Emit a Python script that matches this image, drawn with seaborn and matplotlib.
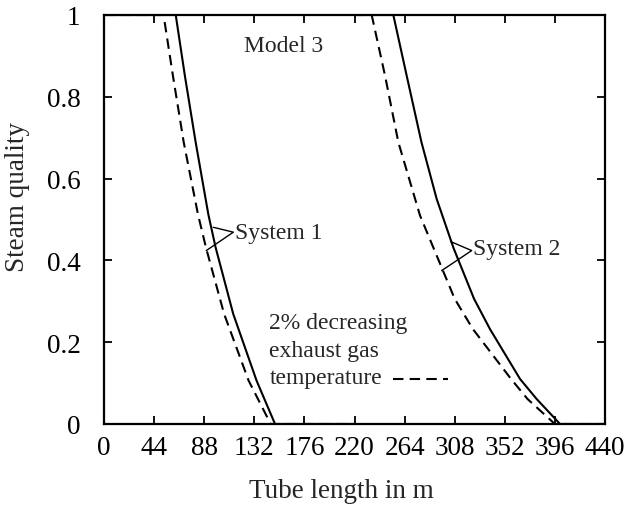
import matplotlib
matplotlib.use("Agg")
import matplotlib.pyplot as plt
import seaborn as sns
import pandas as pd

# ---- data ----
s1_solid_x = [0, 63.0, 71.0, 80.5, 91.6, 98.0, 113.5, 134.0, 150.2, 220]
s1_solid_y = [1, 1.0, 0.852, 0.689, 0.513, 0.432, 0.269, 0.106, 0.0, 0]
s1_dash_x = [0, 52.3, 60.5, 70.0, 82.5, 89.5, 105.5, 127.0, 146.4, 220]
s1_dash_y = [1, 1.0, 0.852, 0.689, 0.513, 0.432, 0.269, 0.106, 0.0, 0]

s2_solid_x = [220, 254.1, 265.8, 278.8, 292.2, 307.0, 325.0, 339.0, 365.4, 380.0, 400.5, 440]
s2_solid_y = [1, 1.0, 0.852, 0.689, 0.55, 0.43, 0.306, 0.232, 0.11, 0.061, 0.0, 0]
s2_dash_x = [220, 235.1, 246.8, 258.5, 277.5, 308.0, 324.0, 357.5, 372.0, 396.0, 440]
s2_dash_y = [1, 1.0, 0.852, 0.689, 0.51, 0.306, 0.232, 0.11, 0.061, 0.0, 0]

x_ticks = [0, 44, 88, 132, 176, 220, 264, 308, 352, 396, 440]
y_ticks = [0, 0.2, 0.4, 0.6, 0.8, 1]
y_tick_labels = ["0", "0.2", "0.4", "0.6", "0.8", "1"]

sns.set_theme(style="ticks")
plt.rcParams["font.family"] = ["Liberation Serif", "DejaVu Serif"]

fig = plt.figure(figsize=(6.25, 5.06), dpi=100)
ax = fig.add_axes([104 / 625, 1 - 425 / 506, 501 / 625, 409 / 506])

lw = 1.5
for xs, ys, dashed in [(s1_solid_x, s1_solid_y, False), (s1_dash_x, s1_dash_y, True),
                       (s2_solid_x, s2_solid_y, False), (s2_dash_x, s2_dash_y, True)]:
    df = pd.DataFrame({"x": xs, "y": ys})
    kw = dict(dashes=(5, 3)) if dashed else {}
    sns.lineplot(data=df, x="x", y="y", ax=ax, color="black", lw=lw,
                 sort=False, estimator=None, **kw)

ax.set_xlim(0, 440)
ax.set_ylim(0, 1)
ax.set_xticks(x_ticks)
ax.set_xticklabels([str(t) for t in x_ticks])
ax.set_yticks(y_ticks)
ax.set_yticklabels(y_tick_labels)

fs_tick = 19.5
fs_ann = 17
ax.tick_params(direction="in", length=6, width=1.3, top=True, right=True,
               labelsize=fs_tick, colors="black")
ax.tick_params(axis="x", pad=8)
ax.tick_params(axis="y", pad=17)
for sp in ax.spines.values():
    sp.set_linewidth(1.6)
    sp.set_color("black")

ax.set_xlabel("Tube length in m", fontsize=fs_tick)
ax.set_ylabel("Steam quality", fontsize=fs_tick)
ax.xaxis.set_label_coords(0.473, -0.132)
ax.yaxis.set_label_coords(-0.148, 0.558)

# annotations
ax.text(157.5, 0.925, "Model 3", fontsize=fs_ann, ha="center", va="center")
ax.text(115, 0.469, "System 1", fontsize=fs_ann, ha="left", va="center")
ax.text(324.3, 0.428, "System 2", fontsize=fs_ann, ha="left", va="center")
ax.plot([96.0, 113.6, 89.8], [0.481, 0.469, 0.424], color="black", lw=1.0)
ax.plot([304.5, 322.9, 296.5], [0.446, 0.424, 0.375], color="black", lw=1.0)
ax.text(145.2, 0.249, "2% decreasing", fontsize=fs_ann, ha="left", va="center")
ax.text(145.2, 0.179, "exhaust gas", fontsize=fs_ann, ha="left", va="center")
ax.text(145.2, 0.114, "temperature", fontsize=fs_ann, ha="left", va="center")
ax.plot([254.1, 302.4], [0.110, 0.110], color="black", lw=lw, dashes=(5, 3))

fig.savefig("out.png", dpi=100)
